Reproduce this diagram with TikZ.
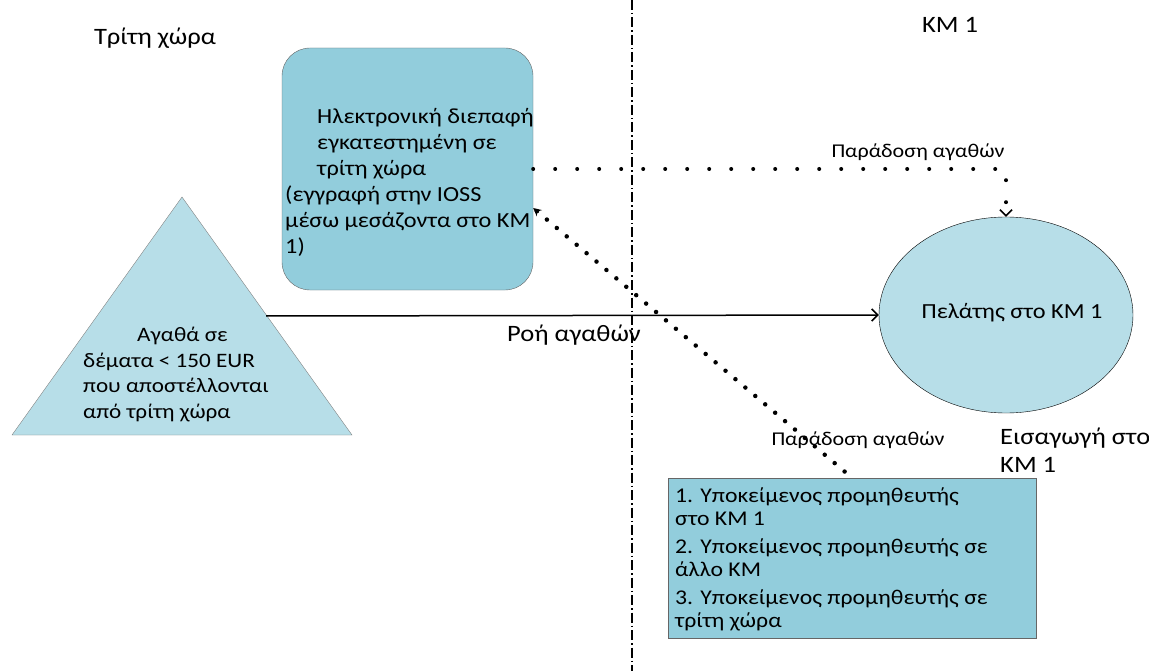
\documentclass[tikz,border=0pt]{standalone}
\usepackage{fontspec}
\setmainfont{Carlito}[FakeStretch=1.13]
\usetikzlibrary{shapes.geometric,arrows.meta}
\definecolor{boxblue}{HTML}{92CDDC}
\definecolor{paleblue}{HTML}{B7DEE8}
\tikzset{
  big/.style={font=\fontsize{23.5}{28}\selectfont},
  mid/.style={font=\fontsize{21.5}{26}\selectfont},
  small/.style={font=\fontsize{19.5}{22}\selectfont},
  textblock/.style={mid,anchor=north west,align=left,inner sep=0pt},
  dotline/.style={line width=4pt,line cap=round,dash pattern=on 0pt off 22pt},
  dotline2/.style={line width=4.5pt,line cap=round,dash pattern=on 0pt off 13pt},
  borderline/.style={line width=1.5pt,dash pattern=on 10pt off 3pt on 1.5pt off 3pt},
  barb/.style={-{Straight Barb[length=6pt,width=12pt,line width=1.6pt]}},
}
\begin{document}
\begin{tikzpicture}[x=1pt,y=-1pt]
\useasboundingbox (0,0) rectangle (1149,671);
% border between the two sides
\coordinate (bordertop) at (632,0);
\coordinate (borderbot) at (632,671);
\draw[borderline] (bordertop)--(borderbot);
\node[big] (thirdland) at (155,38) {Τρίτη χώρα};
\node[big] (memberstate) at (950,25) {ΚΜ 1};
% goods (triangle)
\draw[fill=paleblue,draw=gray] (182,197)--(352,435)--(12,435)--cycle;
\node[textblock,font=\fontsize{20.5}{25.5}\selectfont] (goods) at (83,327) {\hspace*{54pt}Αγαθά σε\\ δέματα < 150 EUR\\ που αποστέλλονται\\ από τρίτη χώρα};
% interface box
\node[draw=gray!80!black,fill=boxblue,rounded corners=28pt,minimum width=251pt,minimum height=242pt] (iface) at (407.5,169) {};
\node[textblock] (ifacetext) at (285,108) {\hspace*{32pt}Ηλεκτρονική διεπαφή\\ \hspace*{32pt}εγκατεστημένη σε\\ \hspace*{32pt}τρίτη χώρα\\ (εγγραφή στην IOSS\\ μέσω μεσάζοντα στο ΚΜ\\ 1)};
% customer
\node[ellipse,draw=black,fill=paleblue,minimum width=254pt,minimum height=196pt] (client) at (1006,315) {};
\node[mid] (clientlabel) at ([xshift=6pt,yshift=2pt]client.center) {Πελάτης στο ΚΜ 1};
% supplier box
\node[draw=gray!80!black,fill=boxblue,minimum width=368pt,minimum height=160pt] (supplier) at (852,558) {};
\node[textblock,font=\fontsize{21}{23}\selectfont] (suppliertext) at (675,488) {1. Υποκείμενος προμηθευτής\\ στο ΚΜ 1\\[5pt] 2. Υποκείμενος προμηθευτής σε\\ άλλο ΚΜ\\[5pt] 3. Υποκείμενος προμηθευτής σε\\ τρίτη χώρα};
\node[textblock,big] (import) at (1000,428) {Εισαγωγή στο\\ ΚΜ 1};
% flows
\coordinate (flowstart) at (266,316);
\draw[line width=1.5pt,barb] (flowstart)--(client.west);
\node[big] (flowlabel) at (574,335) {Ροή αγαθών};
\draw[dotline,barb] (iface.east)-|(client.north);
\node[small] (delivery1) at (918,152) {Παράδοση αγαθών};
\draw[dotline2,{Stealth[length=8pt,width=8pt]}-] ([yshift=-39pt]iface.east)--(supplier.north);
\node[small] (delivery2) at (858,440) {Παράδοση αγαθών};
\end{tikzpicture}
\end{document}
